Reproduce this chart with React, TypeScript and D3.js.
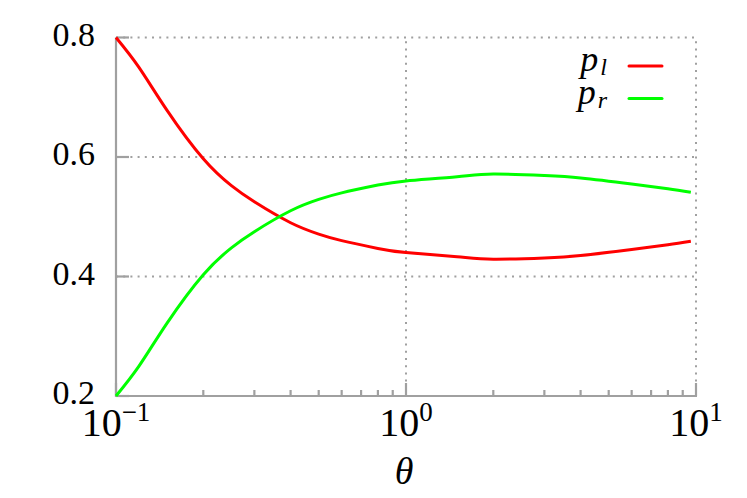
import React, { useRef, useEffect } from 'react';
import * as d3 from 'd3';

// values
const thetas = [0.1, 0.12, 0.15, 0.2, 0.25, 0.3, 0.4, 0.5, 0.6, 0.8, 1, 1.5, 2, 3, 4, 6, 8, 9.6];
const pl = [0.8, 0.75, 0.678, 0.597, 0.552, 0.525, 0.49, 0.471, 0.46, 0.447, 0.44, 0.433, 0.429, 0.431, 0.435, 0.445, 0.453, 0.459];
const pr = [0.2, 0.25, 0.322, 0.403, 0.448, 0.475, 0.51, 0.529, 0.54, 0.553, 0.56, 0.567, 0.5715, 0.569, 0.565, 0.555, 0.547, 0.541];
const yTicks = [0.2, 0.4, 0.6, 0.8];
const xMajor = [0.1, 1, 10];
const xExp = ['\u22121', '0', '1'];
const legend = [
  { name: 'p', sub: 'l', values: pl, color: '#ff0000' },
  { name: 'p', sub: 'r', values: pr, color: '#00ff00' },
];

const App = () => {
  const svgRef = useRef<SVGSVGElement>(null);

  useEffect(() => {
    const width = 747;
    const height = 498;
    const m = { left: 116, right: 51, top: 37.5, bottom: 102 };
    const svg = d3.select(svgRef.current)
      .attr('width', width)
      .attr('height', height)
      .style('background', '#fff');
    svg.selectAll('*').remove();

    const font = "'Liberation Serif', 'Times New Roman', 'DejaVu Serif', serif";
    const grey = '#a0a0a0';

    const x = d3.scaleLog().domain([0.1, 10]).range([m.left, width - m.right]);
    const y = d3.scaleLinear().domain([0.2, 0.8]).range([height - m.bottom, m.top]);

    // dotted grid
    const grid = svg.append('g')
      .attr('stroke', grey)
      .attr('stroke-width', 2)
      .attr('stroke-dasharray', '2,5.2')
      .attr('fill', 'none');
    yTicks.forEach(t => {
      grid.append('line')
        .attr('x1', x(0.1)).attr('x2', x(10))
        .attr('y1', y(t)).attr('y2', y(t));
    });
    xMajor.slice(1).forEach(t => {
      grid.append('line')
        .attr('x1', x(t)).attr('x2', x(t))
        .attr('y1', y(0.2)).attr('y2', y(0.8));
    });

    // axis lines + ticks
    const ax = svg.append('g').attr('stroke', grey).attr('stroke-width', 2.2);
    ax.append('line')
      .attr('x1', x(0.1)).attr('x2', x(0.1))
      .attr('y1', y(0.2) + 1).attr('y2', y(0.8));
    ax.append('line')
      .attr('x1', x(0.1)).attr('x2', x(10) + 1)
      .attr('y1', y(0.2)).attr('y2', y(0.2));
    yTicks.forEach(t => {
      ax.append('line')
        .attr('x1', x(0.1)).attr('x2', x(0.1) + 13)
        .attr('y1', y(t)).attr('y2', y(t));
    });
    x.ticks().forEach(t => {
      const major = xMajor.some(v => Math.abs(v - t) < 1e-9);
      ax.append('line')
        .attr('x1', x(t)).attr('x2', x(t))
        .attr('y1', y(0.2)).attr('y2', y(0.2) - (major ? 13 : 6));
    });

    // y tick labels
    svg.append('g')
      .selectAll('text')
      .data(yTicks)
      .join('text')
        .attr('x', 95)
        .attr('y', d => y(d) + 8)
        .attr('text-anchor', 'end')
        .style('font-family', font)
        .style('font-size', '34px')
        .text(d => d.toFixed(1));

    // x tick labels
    xMajor.forEach((t, i) => {
      const txt = svg.append('text')
        .attr('x', x(t))
        .attr('y', 436)
        .attr('text-anchor', 'middle')
        .style('font-family', font);
      txt.append('tspan').style('font-size', '40px').text('10');
      txt.append('tspan').style('font-size', '27px').attr('dy', -15).text(xExp[i]);
    });

    svg.append('text')
      .attr('x', 404)
      .attr('y', 484)
      .attr('text-anchor', 'middle')
      .style('font-family', font)
      .style('font-style', 'italic')
      .style('font-size', '38px')
      .text('\u03b8');

    // curves
    const line = d3.line<number>()
      .x((d, i) => x(thetas[i]))
      .y(d => y(d))
      .curve(d3.curveNatural);

    legend.forEach((s, i) => {
      svg.append('path')
        .attr('d', line(s.values))
        .attr('fill', 'none')
        .attr('stroke', s.color)
        .attr('stroke-width', 3);

      const ly = 66 + i * 32.5;
      const t = svg.append('text')
        .attr('x', 607)
        .attr('y', ly + 5)
        .attr('text-anchor', 'end')
        .style('font-family', font)
        .style('font-style', 'italic');
      t.append('tspan').style('font-size', '36px').text(s.name);
      t.append('tspan').style('font-size', '24px').attr('dx', 2).attr('dy', 4).text(s.sub);

      svg.append('line')
        .attr('x1', 629).attr('x2', 662)
        .attr('y1', ly).attr('y2', ly)
        .attr('stroke', s.color)
        .attr('stroke-width', 3)
        .attr('stroke-linecap', 'round');
    });
  }, []);

  return (
    <div style={{ position: 'absolute', left: 0, top: 0 }}>
      <svg ref={svgRef}></svg>
    </div>
  );
};

export default App;
